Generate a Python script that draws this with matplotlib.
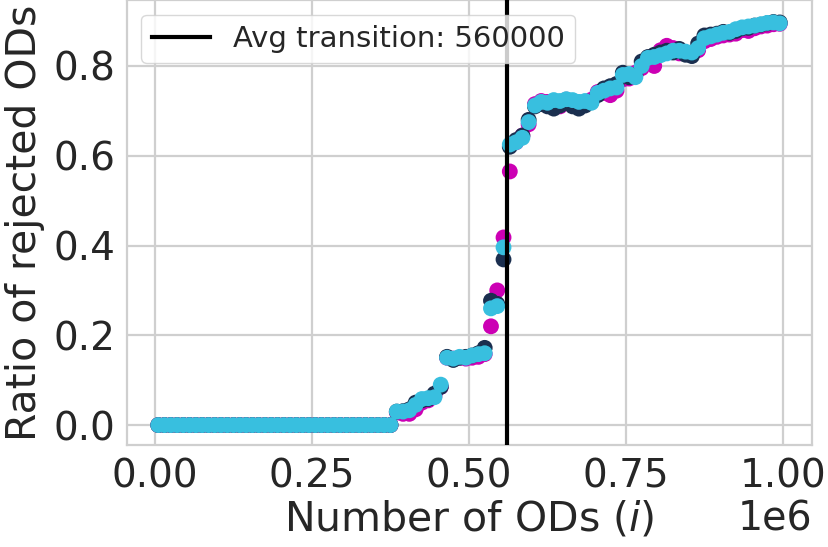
import matplotlib
matplotlib.use("Agg")
import matplotlib.pyplot as plt
from matplotlib.ticker import ScalarFormatter
import numpy as np

# number of ODs processed (sampled every 10000)
n_ods = np.arange(5000, 1000000, 10000)

# ratio of rejected ODs, one list per run
flat = [0.0] * 38
ratio_magenta = flat + [
    0.028, 0.025, 0.025, 0.035, 0.050, 0.055, 0.065, 0.085, 0.150, 0.148,
    0.150, 0.148, 0.150, 0.152, 0.158, 0.220, 0.300, 0.418, 0.565, 0.630,
    0.645, 0.670, 0.715, 0.722, 0.720, 0.715, 0.710, 0.725, 0.712, 0.710,
    0.718, 0.725, 0.742, 0.740, 0.735, 0.745, 0.770, 0.772, 0.785, 0.795,
    0.810, 0.800, 0.835, 0.845, 0.840, 0.828, 0.830, 0.826, 0.835, 0.855,
    0.860, 0.865, 0.868, 0.870, 0.872, 0.880, 0.878, 0.884, 0.888, 0.890,
    0.893, 0.894]
ratio_navy = flat + [
    0.030, 0.031, 0.035, 0.050, 0.055, 0.058, 0.070, 0.085, 0.152, 0.145,
    0.150, 0.152, 0.155, 0.160, 0.172, 0.277, 0.270, 0.369, 0.620, 0.635,
    0.645, 0.680, 0.710, 0.715, 0.710, 0.705, 0.712, 0.720, 0.710, 0.705,
    0.712, 0.720, 0.735, 0.750, 0.755, 0.760, 0.785, 0.775, 0.780, 0.810,
    0.820, 0.825, 0.830, 0.834, 0.830, 0.838, 0.825, 0.822, 0.850, 0.868,
    0.870, 0.872, 0.876, 0.874, 0.878, 0.884, 0.885, 0.890, 0.892, 0.895,
    0.898, 0.897]
ratio_cyan = flat + [
    0.030, 0.030, 0.033, 0.045, 0.058, 0.060, 0.062, 0.090, 0.150, 0.148,
    0.152, 0.150, 0.155, 0.158, 0.160, 0.260, 0.265, 0.396, 0.625, 0.630,
    0.640, 0.675, 0.712, 0.720, 0.718, 0.724, 0.722, 0.726, 0.724, 0.720,
    0.722, 0.718, 0.740, 0.745, 0.750, 0.752, 0.780, 0.782, 0.775, 0.800,
    0.818, 0.820, 0.824, 0.828, 0.834, 0.834, 0.832, 0.830, 0.840, 0.862,
    0.866, 0.870, 0.874, 0.876, 0.882, 0.886, 0.888, 0.890, 0.893, 0.896,
    0.897, 0.895]

avg_transition = 560000

plt.rcParams['font.family'] = ['DejaVu Sans']

fig, ax = plt.subplots(figsize=(8.29, 5.47), dpi=100)
fig.subplots_adjust(left=0.153, right=0.98, top=1.0, bottom=0.186)

grid_col = '#cfcfcf'
txt_col = '#262626'
ax.set_facecolor('white')
ax.grid(True, color=grid_col, linewidth=1.6)
ax.set_axisbelow(True)
for spine in ax.spines.values():
    spine.set_color(grid_col)
    spine.set_linewidth(1.6)

for vals, col in [(ratio_magenta, '#cc00b4'), (ratio_navy, '#1b2f4f'),
                  (ratio_cyan, '#38bfdf')]:
    ax.scatter(n_ods, vals, s=130, color=col, edgecolors='none', zorder=2)

ax.axvline(avg_transition, color='black', linewidth=3,
           label='Avg transition: {}'.format(avg_transition), zorder=3)

ax.set_xlim(-45000, 1047000)
ax.set_ylim(-0.045, 0.947)
ax.set_xticks([0, 250000, 500000, 750000, 1000000])
ax.set_yticks([0.0, 0.2, 0.4, 0.6, 0.8])
fmt = ScalarFormatter(useMathText=False)
fmt.set_scientific(True)
fmt.set_powerlimits((0, 0))
ax.xaxis.set_major_formatter(fmt)
ax.tick_params(axis='both', length=0, labelsize=28, labelcolor=txt_col, pad=8)
ax.tick_params(axis='x', pad=9)
ax.xaxis.get_offset_text().set_fontsize(28.5)
ax.xaxis.get_offset_text().set_color(txt_col)

ax.set_xlabel('Number of ODs ($i$)', fontsize=29.5, color=txt_col, labelpad=3)
ax.set_ylabel('Ratio of rejected ODs', fontsize=29.5, color=txt_col, labelpad=6)

leg = ax.legend(loc='upper left', fontsize=21, frameon=True, fancybox=True,
                borderpad=0.35, handlelength=2.0)
leg.get_frame().set_edgecolor(grid_col)
for t in leg.get_texts():
    t.set_color(txt_col)

plt.savefig('out.png', dpi=100)
